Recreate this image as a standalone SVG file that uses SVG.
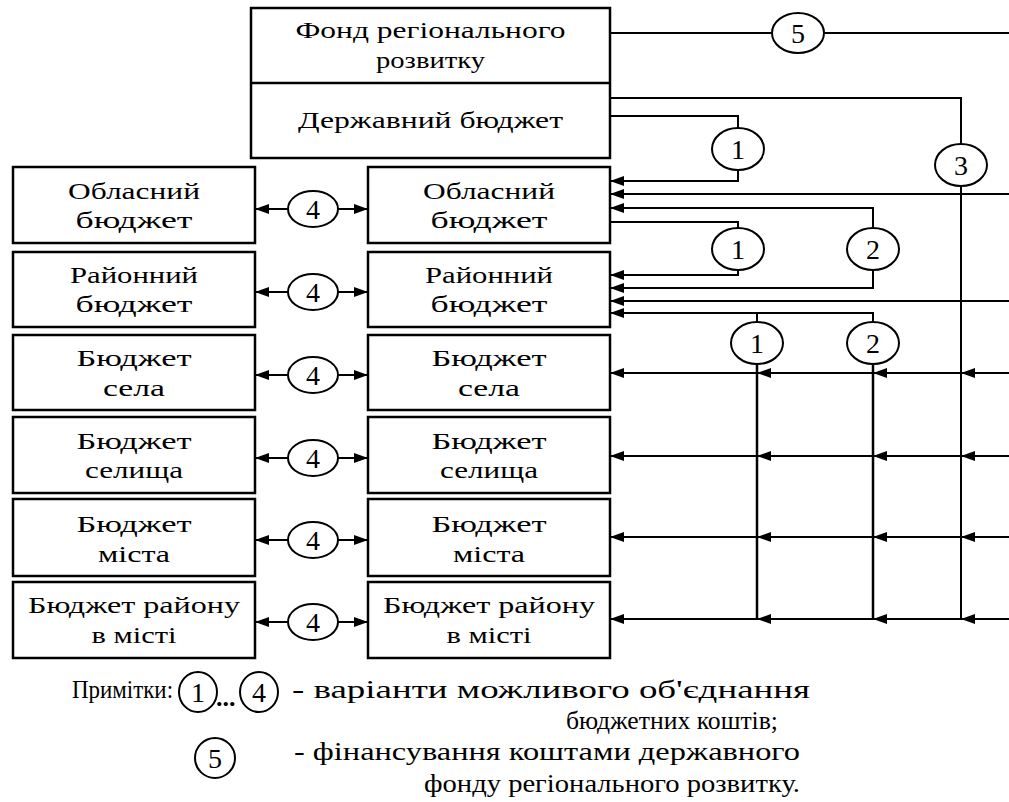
<svg xmlns="http://www.w3.org/2000/svg" width="1009" height="802" viewBox="0 0 1009 802">
<defs>
<marker id="ah" markerWidth="14" markerHeight="10" refX="14" refY="5" orient="auto" markerUnits="userSpaceOnUse"><path d="M0,0 L14,5 L0,10 Z" fill="#000"/></marker>
<style>
.box{fill:#fff;stroke:#000;stroke-width:2.5}
.t{font-family:"Liberation Serif","Times New Roman",serif;font-size:24px;fill:#000;text-anchor:middle}
.ts{font-family:"Liberation Serif","Times New Roman",serif;font-size:26px;fill:#000}
.n{font-family:"Liberation Serif","Times New Roman",serif;font-size:28px;fill:#000;text-anchor:middle}
.c{fill:#fff;stroke:#000;stroke-width:2}
.l{fill:none;stroke:#000;stroke-width:2}
.v{fill:none;stroke:#000;stroke-width:2.5}
.a{fill:none;stroke:#000;stroke-width:2;marker-end:url(#ah)}
</style>
</defs>
<rect x="0" y="0" width="1009" height="802" fill="#fff"/>

<g id="connectors">
  <path class="l" d="M610,33 H772 M824,33 H1009"/>
  <path class="l" d="M610,98 H961 V144"/>
  <path class="l" d="M961,186 V619"/>
  <path class="l" d="M610,116 H738 V128"/>
  <path class="a" d="M738,170 V181 H610"/>
  <path class="a" d="M1009,194 H610"/>
  <path class="a" d="M873,228 V208 H610"/>
  <path class="l" d="M610,222 H738 V228"/>
  <path class="a" d="M738,270 V275 H610"/>
  <path class="a" d="M873,270 V288 H610"/>
  <path class="a" d="M1009,301 H610"/>
  <path class="a" d="M873,322 V313 H610"/>
  <path class="l" d="M757,313 V322"/>
  <path class="v" d="M757,364 V619 M873,364 V619"/>
  <path class="a" d="M1009,373 H961"/><path class="a" d="M961,373 H873"/><path class="a" d="M873,373 H757"/><path class="a" d="M757,373 H610"/>
  <path class="a" d="M1009,456 H961"/><path class="a" d="M961,456 H873"/><path class="a" d="M873,456 H757"/><path class="a" d="M757,456 H610"/>
  <path class="a" d="M1009,537 H961"/><path class="a" d="M961,537 H873"/><path class="a" d="M873,537 H757"/><path class="a" d="M757,537 H610"/>
  <path class="a" d="M1009,619 H961"/><path class="a" d="M961,619 H873"/><path class="a" d="M873,619 H757"/><path class="a" d="M757,619 H610"/>
  <path class="a" d="M288,209 H255"/><path class="a" d="M338,209 H368"/>
  <path class="a" d="M288,292 H255"/><path class="a" d="M338,292 H368"/>
  <path class="a" d="M288,375 H255"/><path class="a" d="M338,375 H368"/>
  <path class="a" d="M288,458 H255"/><path class="a" d="M338,458 H368"/>
  <path class="a" d="M288,540 H255"/><path class="a" d="M338,540 H368"/>
  <path class="a" d="M288,622 H255"/><path class="a" d="M338,622 H368"/>
</g>

<g id="c5"><ellipse class="c" cx="798" cy="33" rx="26" ry="20"/><text class="n" x="798" y="43">5</text></g>
<g id="c3"><ellipse class="c" cx="961" cy="165" rx="26" ry="21"/><text class="n" x="961" y="175">3</text></g>
<g id="c1a"><ellipse class="c" cx="738" cy="149" rx="26" ry="21"/><text class="n" x="738" y="159">1</text></g>
<g id="c1b"><ellipse class="c" cx="738" cy="249" rx="26" ry="21"/><text class="n" x="738" y="259">1</text></g>
<g id="c2a"><ellipse class="c" cx="873" cy="249" rx="26" ry="21"/><text class="n" x="873" y="259">2</text></g>
<g id="c1c"><ellipse class="c" cx="757" cy="343" rx="26" ry="21"/><text class="n" x="757" y="353">1</text></g>
<g id="c2c"><ellipse class="c" cx="873" cy="343" rx="26" ry="21"/><text class="n" x="873" y="353">2</text></g>
<g id="c4-1"><ellipse class="c" cx="313" cy="209" rx="25" ry="18"/><text class="n" x="313" y="219">4</text></g>
<g id="c4-2"><ellipse class="c" cx="313" cy="292" rx="25" ry="18"/><text class="n" x="313" y="302">4</text></g>
<g id="c4-3"><ellipse class="c" cx="313" cy="375" rx="25" ry="18"/><text class="n" x="313" y="385">4</text></g>
<g id="c4-4"><ellipse class="c" cx="313" cy="458" rx="25" ry="18"/><text class="n" x="313" y="468">4</text></g>
<g id="c4-5"><ellipse class="c" cx="313" cy="540" rx="25" ry="18"/><text class="n" x="313" y="550">4</text></g>
<g id="c4-6"><ellipse class="c" cx="313" cy="622" rx="25" ry="18"/><text class="n" x="313" y="632">4</text></g>

<g id="top">
  <rect class="box" x="251" y="8" width="359" height="150"/>
  <line x1="251" y1="83" x2="610" y2="83" stroke="#000" stroke-width="2.5"/>
  <text class="t" x="430.5" y="38" textLength="270" lengthAdjust="spacingAndGlyphs">Фонд регіонального</text>
  <text class="t" x="430.5" y="68" textLength="109" lengthAdjust="spacingAndGlyphs">розвитку</text>
  <text class="t" x="430.5" y="128" textLength="265" lengthAdjust="spacingAndGlyphs">Державний бюджет</text>
</g>

<g id="L1"><rect class="box" x="13" y="167" width="242" height="76"/>
  <text class="t" x="134" y="199" textLength="132" lengthAdjust="spacingAndGlyphs">Обласний</text>
  <text class="t" x="134" y="228" textLength="117" lengthAdjust="spacingAndGlyphs">бюджет</text></g>
<g id="R1"><rect class="box" x="368" y="167" width="242" height="76"/>
  <text class="t" x="489" y="199" textLength="132" lengthAdjust="spacingAndGlyphs">Обласний</text>
  <text class="t" x="489" y="228" textLength="117" lengthAdjust="spacingAndGlyphs">бюджет</text></g>

<g id="L2"><rect class="box" x="13" y="252" width="242" height="75"/>
  <text class="t" x="134" y="283" textLength="128" lengthAdjust="spacingAndGlyphs">Районний</text>
  <text class="t" x="134" y="312" textLength="117" lengthAdjust="spacingAndGlyphs">бюджет</text></g>
<g id="R2"><rect class="box" x="368" y="252" width="242" height="75"/>
  <text class="t" x="489" y="283" textLength="128" lengthAdjust="spacingAndGlyphs">Районний</text>
  <text class="t" x="489" y="312" textLength="117" lengthAdjust="spacingAndGlyphs">бюджет</text></g>

<g id="L3"><rect class="box" x="13" y="335" width="242" height="75"/>
  <text class="t" x="134" y="366" textLength="115" lengthAdjust="spacingAndGlyphs">Бюджет</text>
  <text class="t" x="134" y="396" textLength="62" lengthAdjust="spacingAndGlyphs">села</text></g>
<g id="R3"><rect class="box" x="368" y="335" width="242" height="75"/>
  <text class="t" x="489" y="366" textLength="115" lengthAdjust="spacingAndGlyphs">Бюджет</text>
  <text class="t" x="489" y="396" textLength="62" lengthAdjust="spacingAndGlyphs">села</text></g>

<g id="L4"><rect class="box" x="13" y="417" width="242" height="76"/>
  <text class="t" x="134" y="449" textLength="115" lengthAdjust="spacingAndGlyphs">Бюджет</text>
  <text class="t" x="134" y="478" textLength="98" lengthAdjust="spacingAndGlyphs">селища</text></g>
<g id="R4"><rect class="box" x="368" y="417" width="242" height="76"/>
  <text class="t" x="489" y="449" textLength="115" lengthAdjust="spacingAndGlyphs">Бюджет</text>
  <text class="t" x="489" y="478" textLength="98" lengthAdjust="spacingAndGlyphs">селища</text></g>

<g id="L5"><rect class="box" x="13" y="499" width="242" height="77"/>
  <text class="t" x="134" y="532" textLength="115" lengthAdjust="spacingAndGlyphs">Бюджет</text>
  <text class="t" x="134" y="562" textLength="72" lengthAdjust="spacingAndGlyphs">міста</text></g>
<g id="R5"><rect class="box" x="368" y="499" width="242" height="77"/>
  <text class="t" x="489" y="532" textLength="115" lengthAdjust="spacingAndGlyphs">Бюджет</text>
  <text class="t" x="489" y="562" textLength="72" lengthAdjust="spacingAndGlyphs">міста</text></g>

<g id="L6"><rect class="box" x="13" y="582" width="242" height="76"/>
  <text class="t" x="134" y="613" textLength="212" lengthAdjust="spacingAndGlyphs">Бюджет району</text>
  <text class="t" x="134" y="643" textLength="85" lengthAdjust="spacingAndGlyphs">в місті</text></g>
<g id="R6"><rect class="box" x="368" y="582" width="242" height="76"/>
  <text class="t" x="489" y="613" textLength="212" lengthAdjust="spacingAndGlyphs">Бюджет району</text>
  <text class="t" x="489" y="643" textLength="85" lengthAdjust="spacingAndGlyphs">в місті</text></g>

<g id="legend">
  <text class="ts" x="72" y="698" textLength="101" lengthAdjust="spacingAndGlyphs">Примітки:</text>
  <ellipse class="c" cx="198" cy="692" rx="19" ry="20"/><text class="n" x="198" y="702">1</text>
  <text class="ts" x="216" y="706" font-size="30" font-weight="bold">...</text>
  <ellipse class="c" cx="259" cy="692" rx="19" ry="20"/><text class="n" x="259" y="702">4</text>
  <text class="ts" x="292" y="698" textLength="518" lengthAdjust="spacingAndGlyphs">- варіанти можливого об'єднання</text>
  <text class="ts" x="778" y="729" text-anchor="end" textLength="212" lengthAdjust="spacingAndGlyphs">бюджетних коштів;</text>
  <ellipse class="c" cx="215" cy="758" rx="20" ry="20"/><text class="n" x="215" y="768">5</text>
  <text class="ts" x="294" y="760" textLength="506" lengthAdjust="spacingAndGlyphs">- фінансування коштами державного</text>
  <text class="ts" x="800" y="792" text-anchor="end" textLength="376" lengthAdjust="spacingAndGlyphs">фонду регіонального розвитку.</text>
</g>
</svg>
